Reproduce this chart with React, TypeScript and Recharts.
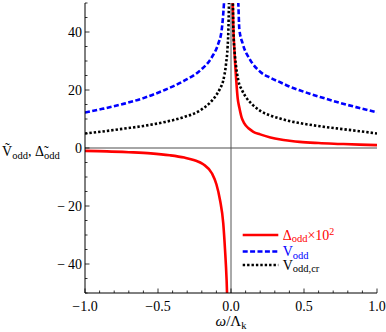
import { LineChart, Line, XAxis, YAxis, ReferenceLine, Legend } from 'recharts';

// Δ_odd × 10^2 (red), left branch, break at 0, right branch
const deltaOmega = [
  -1.0, -0.85, -0.7, -0.55, -0.42, -0.32, -0.25, -0.19, -0.13, -0.1, -0.075, -0.053, -0.041, -0.03, -0.022,
  0,
  0.008, 0.012, 0.016, 0.025, 0.035, 0.046, 0.057, 0.073, 0.09, 0.12, 0.153, 0.2, 0.27, 0.34, 0.4, 0.47, 0.6, 0.75, 0.88, 1.0,
];
const deltaValue = [
  -1.0, -1.15, -1.45, -1.85, -2.5, -3.3, -4.2, -5.6, -8.8, -12.5, -18, -26, -35, -45.6, -58,
  null,
  62, 50, 42, 32, 24, 17, 14, 10.5, 8.6, 6.8, 5.6, 4.7, 3.6, 2.9, 2.5, 2.1, 1.7, 1.4, 1.15, 1.0,
];

// V_odd (blue dashed)
const voddOmega = [
  -1.0, -0.88, -0.73, -0.6, -0.45, -0.32, -0.21, -0.13, -0.087, -0.064, -0.055, -0.048, -0.04,
  0,
  0.04, 0.05, 0.057, 0.08, 0.13, 0.2, 0.27, 0.34, 0.4, 0.47, 0.61, 0.75, 0.88, 1.0,
];
const voddValue = [
  12.2, 13.5, 15.3, 17.2, 20.1, 23.2, 26.8, 31.4, 36, 40.6, 45, 50, 58,
  null,
  58, 50, 41, 36, 30.5, 26.3, 24.2, 22.6, 21.2, 19.9, 17.6, 15.5, 13.8, 12.3,
];

// V_odd,cr (black dotted)
const vcrOmega = [
  -1.0, -0.88, -0.73, -0.6, -0.45, -0.32, -0.21, -0.15, -0.11, -0.075, -0.053, -0.034, -0.023, -0.018, -0.014, -0.01,
  0,
  0.01, 0.013, 0.016, 0.025, 0.034, 0.05, 0.075, 0.107, 0.15, 0.2, 0.27, 0.34, 0.4, 0.47, 0.61, 0.75, 0.88, 1.0,
];
const vcrValue = [
  5.0, 5.7, 6.7, 7.6, 9.0, 10.7, 13, 15.3, 17.6, 20.5, 23.3, 29, 35, 40.6, 50, 62,
  null,
  62, 50, 41, 33, 28.5, 23.3, 20, 17.2, 14.8, 12.8, 11.2, 10.1, 9.3, 8.6, 7.5, 6.6, 5.8, 5.0,
];

const xTicks = [-1, -0.9, -0.8, -0.7, -0.6, -0.5, -0.4, -0.3, -0.2, -0.1, 0, 0.1, 0.2, 0.3, 0.4, 0.5, 0.6, 0.7, 0.8, 0.9, 1];
const xMajor = [-1, -0.5, 0, 0.5, 1];
const xMajorText = ['\u22121.0', '\u22120.5', '0.0', '0.5', '1.0'];

const yTicks = [-50, -45, -40, -35, -30, -25, -20, -15, -10, -5, 0, 5, 10, 15, 20, 25, 30, 35, 40, 45, 50];
const yMajor = [-40, -20, 0, 20, 40];
const yMajorText = ['\u2212\u200940', '\u2212\u200920', '0', '20', '40'];

const toRows = (omega: number[], value: (number | null)[], key: string) =>
  omega.map((w, i) => ({ w, [key]: value[i] }));

const series = [
  { key: 'delta', rows: toRows(deltaOmega, deltaValue, 'delta'), color: '#ff0000', dash: undefined, base: '\u0394', sub: 'odd', tail: '\u00d710', sup: '2' },
  { key: 'vodd', rows: toRows(voddOmega, voddValue, 'vodd'), color: '#0000ff', dash: '5 2.4', base: 'V', sub: 'odd', tail: '', sup: '' },
  { key: 'vcr', rows: toRows(vcrOmega, vcrValue, 'vcr'), color: '#000000', dash: '2.4 2', base: 'V', sub: 'odd,cr', tail: '', sup: '' },
];

const FONT = "'Liberation Serif', 'Times New Roman', Times, 'DejaVu Serif', serif";
const txt = { fontFamily: FONT };
const MAJOR_LEN = 4.5;
const MINOR_LEN = 2.5;

const findMajor = (list: number[], v: number) => list.findIndex((m) => Math.abs(m - v) < 1e-9);

function BottomTick({ x, y, payload }: any) {
  const i = findMajor(xMajor, payload.value);
  return (
    <g>
      <line x1={x} y1={y} x2={x} y2={y - (i >= 0 ? MAJOR_LEN : MINOR_LEN)} stroke="#000" strokeWidth={0.8} />
      {i >= 0 && (
        <text x={x} y={y + 18} textAnchor="middle" fontSize={14} style={txt} fill="#000">
          {xMajorText[i]}
        </text>
      )}
    </g>
  );
}

function TopTick({ x, y, payload }: any) {
  const i = findMajor(xMajor, payload.value);
  return <line x1={x} y1={y} x2={x} y2={y + (i >= 0 ? MAJOR_LEN : MINOR_LEN)} stroke="#000" strokeWidth={0.8} />;
}

function LeftTick({ x, y, payload }: any) {
  const i = findMajor(yMajor, payload.value);
  return (
    <g>
      <line x1={x} y1={y} x2={x + (i >= 0 ? MAJOR_LEN : MINOR_LEN)} y2={y} stroke="#000" strokeWidth={0.8} />
      {i >= 0 && (
        <text x={x - 3} y={y + 5} textAnchor="end" fontSize={14} style={txt} fill="#000">
          {yMajorText[i]}
        </text>
      )}
    </g>
  );
}

function RightTick({ x, y, payload }: any) {
  const i = findMajor(yMajor, payload.value);
  return <line x1={x} y1={y} x2={x - (i >= 0 ? MAJOR_LEN : MINOR_LEN)} y2={y} stroke="#000" strokeWidth={0.8} />;
}

function YTitle() {
  return (
    <text x={2} y={156} fontSize={14} style={txt} fill="#000">
      {'\u1E7C'}
      <tspan fontSize={10.5} dy={2.5}>odd</tspan>
      <tspan dy={-2.5}>{', \u0394\u0303'}</tspan>
      <tspan fontSize={10.5} dy={2.5}>odd</tspan>
    </text>
  );
}

function XTitle() {
  return (
    <text x={231} y={326} textAnchor="middle" fontSize={15} style={txt} fill="#000">
      <tspan fontStyle="italic">{'\u03c9'}</tspan>/{'\u039b'}
      <tspan fontSize={10.5} dy={2.5}>k</tspan>
    </text>
  );
}

function PanelTag() {
  return (
    <text x={93} y={22} fontSize={15} style={txt} fill="#000">
      a)
    </text>
  );
}

const legendRowY = [10, 26.5, 40];

function LegendBox({ payload }: any) {
  const entries = payload || [];
  return (
    <svg width={140} height={52} style={{ display: 'block', overflow: 'visible' }}>
      {series.map((s, i) => {
        const entry = entries.find((e: any) => e.dataKey === s.key);
        const ry = legendRowY[i];
        return (
          <g key={s.key}>
            <line x1={2.7} x2={38.3} y1={ry} y2={ry} stroke={entry ? entry.color : s.color} strokeWidth={2.6} strokeDasharray={s.dash} />
            <text x={42.7} y={ry + 4.5} fontSize={14} style={txt} fill={s.color}>
              {s.base}
              <tspan fontSize={10.5} dy={2.5}>{s.sub}</tspan>
              {s.tail && <tspan dy={-2.5}>{s.tail}</tspan>}
              {s.sup && <tspan fontSize={10} dy={-5}>{s.sup}</tspan>}
            </text>
          </g>
        );
      })}
    </svg>
  );
}

export default function App() {
  return (
    <div style={{ position: 'absolute', left: 0, top: 0, background: '#fff', fontFamily: FONT }}>
      <LineChart width={386} height={332} margin={{ top: 3, right: 9, bottom: 0, left: 0 }}>
        <XAxis
          xAxisId="b"
          dataKey="w"
          type="number"
          domain={[-1, 1]}
          ticks={xTicks}
          interval={0}
          allowDataOverflow
          height={39}
          tickSize={0}
          tickMargin={0}
          tickLine={false}
          axisLine={{ stroke: '#000', strokeWidth: 1 }}
          tick={<BottomTick />}
          label={<XTitle />}
        />
        <XAxis
          xAxisId="t"
          orientation="top"
          dataKey="w"
          type="number"
          domain={[-1, 1]}
          ticks={xTicks}
          interval={0}
          allowDataOverflow
          height={0}
          tickSize={0}
          tickMargin={0}
          tickLine={false}
          axisLine={{ stroke: '#000', strokeWidth: 1 }}
          tick={<TopTick />}
          label={<PanelTag />}
        />
        <YAxis
          yAxisId="l"
          type="number"
          domain={[-50, 50]}
          ticks={yTicks}
          interval={0}
          allowDataOverflow
          width={85}
          tickSize={0}
          tickMargin={0}
          tickLine={false}
          axisLine={{ stroke: '#000', strokeWidth: 1 }}
          tick={<LeftTick />}
          label={<YTitle />}
        />
        <YAxis
          yAxisId="r"
          orientation="right"
          type="number"
          domain={[-50, 50]}
          ticks={yTicks}
          interval={0}
          allowDataOverflow
          width={0}
          tickSize={0}
          tickMargin={0}
          tickLine={false}
          axisLine={{ stroke: '#000', strokeWidth: 1 }}
          tick={<RightTick />}
        />
        <ReferenceLine xAxisId="b" yAxisId="l" y={0} stroke="#a6a6a6" strokeWidth={2} />
        <ReferenceLine xAxisId="b" yAxisId="l" x={0} stroke="#555" strokeWidth={1} />
        {series.map((s) => (
          <Line
            key={s.key}
            xAxisId="b"
            yAxisId="l"
            data={s.rows}
            dataKey={s.key}
            type="monotone"
            stroke={s.color}
            strokeWidth={2.6}
            strokeDasharray={s.dash}
            dot={false}
            activeDot={false}
            connectNulls={false}
            isAnimationActive={false}
          />
        ))}
        <Legend
          layout="vertical"
          align="center"
          verticalAlign="middle"
          content={<LegendBox />}
          wrapperStyle={{ left: 240, top: 225, width: 140, height: 52 }}
        />
      </LineChart>
    </div>
  );
}
